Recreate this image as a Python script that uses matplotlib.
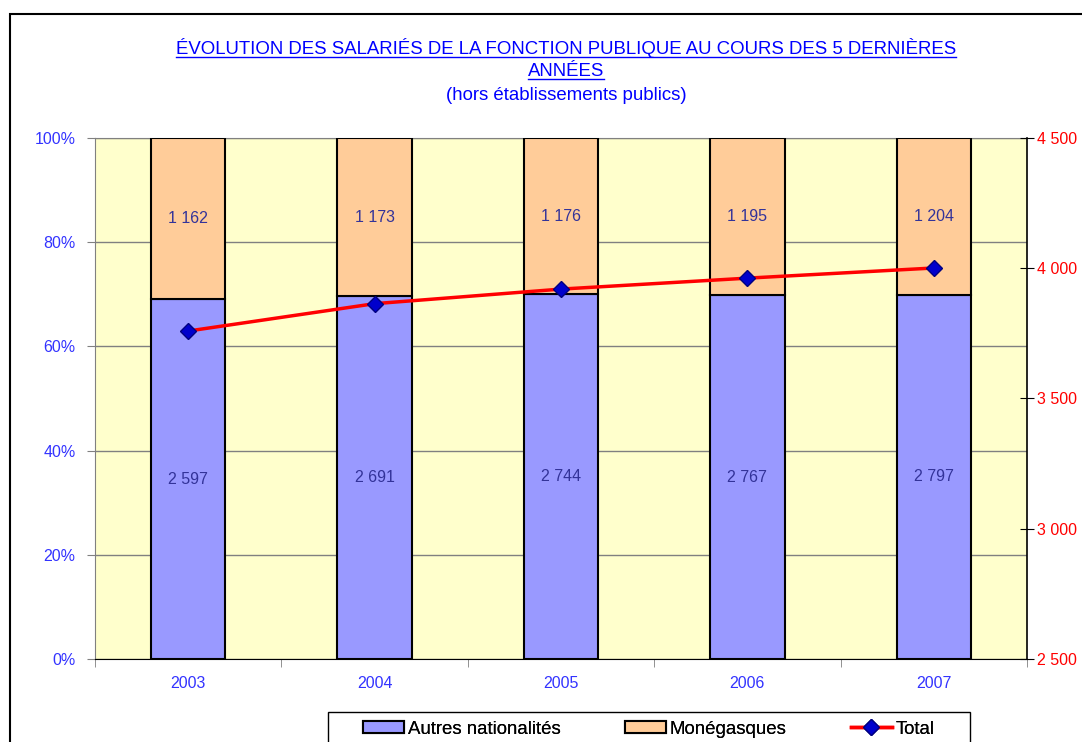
import numpy as np
import matplotlib
matplotlib.use('Agg')
import matplotlib.pyplot as plt
from matplotlib.lines import Line2D
from matplotlib.patches import Rectangle

plt.rcParams['font.family'] = ['Liberation Sans', 'DejaVu Sans']

# Données
years = ['2003', '2004', '2005', '2006', '2007']
autres = np.array([2597, 2691, 2744, 2767, 2797])
monegasques = np.array([1162, 1173, 1176, 1195, 1204])
total = autres + monegasques

blue_txt = '#3333FF'
W, H = 1082, 742

fig = plt.figure(figsize=(W / 100, H / 100), dpi=100)
ax = fig.add_axes([95 / W, 1 - 659 / H, 932 / W, 521 / H])
ax.set_facecolor('#FFFFCC')

x = np.arange(len(years))
share_a = autres / total
share_m = monegasques / total

ax.bar(x, share_a, width=0.40, color='#9999FF', edgecolor='black', linewidth=1.5,
       label='Autres nationalités', zorder=3)
ax.bar(x, share_m, bottom=share_a, width=0.40, color='#FFCC99', edgecolor='black',
       linewidth=1.5, label='Monégasques', zorder=3)

def fmt(v):
    return '{:,}'.format(v).replace(',', ' ')

for i in range(len(years)):
    ax.text(x[i], share_a[i] / 2, fmt(autres[i]), ha='center', va='center',
            color='#333399', fontsize=11.5, zorder=5)
    ax.text(x[i], share_a[i] + share_m[i] / 2, fmt(monegasques[i]), ha='center',
            va='center', color='#333399', fontsize=11.5, zorder=5)

ax.set_xlim(-0.5, len(years) - 0.5)
ax.set_ylim(0, 1)
ax.set_yticks(np.arange(0, 1.01, 0.2))
ax.set_yticklabels(['{:.0f}%'.format(v * 100) for v in np.arange(0, 1.01, 0.2)])
ax.yaxis.grid(True, color='#808080', linewidth=1, zorder=0)
ax.set_xticks(x)
ax.set_xticklabels(years)
ax.set_xticks(np.arange(-0.5, len(years), 1), minor=True)
ax.tick_params(axis='x', which='major', length=0, pad=12, labelcolor=blue_txt, labelsize=11.5)
ax.tick_params(axis='x', which='minor', length=6, direction='out', color='#808080')
ax.tick_params(axis='y', length=6, direction='out', color='#808080', labelcolor=blue_txt,
               labelsize=11.5, pad=8)
for s in ['top', 'left']:
    ax.spines[s].set_color('#808080')
ax.spines['right'].set_visible(False)
ax.spines['bottom'].set_color('black')

# Axe de droite : total
ax2 = ax.twinx()
ax2.plot(x, total, color='#FF0000', linewidth=2.5, marker='D', markersize=8,
         markerfacecolor='#0000CC', markeredgecolor='#000080', label='Total', zorder=6)
ax2.set_ylim(2500, 4500)
ax2.set_yticks([2500, 3000, 3500, 4000, 4500])
ax2.set_yticklabels(['2 500', '3 000', '3 500', '4 000', '4 500'])
ax2.tick_params(axis='y', length=10, direction='inout', color='black', labelcolor='#FF0000',
                labelsize=11.5, pad=2)
ax2.spines['right'].set_color('black')
ax2.spines['right'].set_linewidth(1.2)
ax2.spines['left'].set_visible(False)
ax2.spines['top'].set_visible(False)
ax2.spines['bottom'].set_visible(False)

# Titre souligné
tx = 566 / W
t1 = fig.text(tx, 1 - 48 / H,
              'ÉVOLUTION DES SALARIÉS DE LA FONCTION PUBLIQUE AU COURS DES 5 DERNIÈRES',
              ha='center', va='center', color='#0000FF', fontsize=13.4)
t2 = fig.text(tx, 1 - 71 / H, 'ANNÉES', ha='center', va='center',
              color='#0000FF', fontsize=13.4)
fig.text(tx, 1 - 95 / H, '(hors établissements publics)', ha='center',
         va='center', color='#0000FF', fontsize=13.4)

fig.canvas.draw()
r = fig.canvas.get_renderer()
for t in (t1, t2):
    bb = t.get_window_extent(renderer=r).transformed(fig.transFigure.inverted())
    fig.add_artist(Line2D([bb.x0, bb.x1], [bb.y0 + 0.001, bb.y0 + 0.001],
                          color='#0000FF', linewidth=1, transform=fig.transFigure))

# Légende : trois entrées placées comme dans l'original, cadre dessiné à part
h1, l1 = ax.get_legend_handles_labels()
h2, l2 = ax2.get_legend_handles_labels()
handles = h1 + h2
labels = l1 + l2
leg_x = [363, 625, 851]
for hd, lb, lx in zip(handles, labels, leg_x):
    lg = fig.legend([hd], [lb], loc='center left', bbox_to_anchor=(lx / W, 1 - 729 / H),
                    frameon=False, fontsize=13.4, handlelength=2.2, handleheight=0.6,
                    handletextpad=0.2, borderpad=0, borderaxespad=0)
    fig.add_artist(lg)
fig.add_artist(Rectangle((328 / W, -0.05), 642 / W, 0.05 + 1 - 712 / H, fill=False,
                         edgecolor='black', linewidth=1, transform=fig.transFigure))

# Cadre du graphique
fig.add_artist(Rectangle((10 / W, -0.05), 1.1, 1 - 14 / H + 0.05, fill=False,
                         edgecolor='black', linewidth=1.5, transform=fig.transFigure))

fig.savefig('out.png', dpi=100)
